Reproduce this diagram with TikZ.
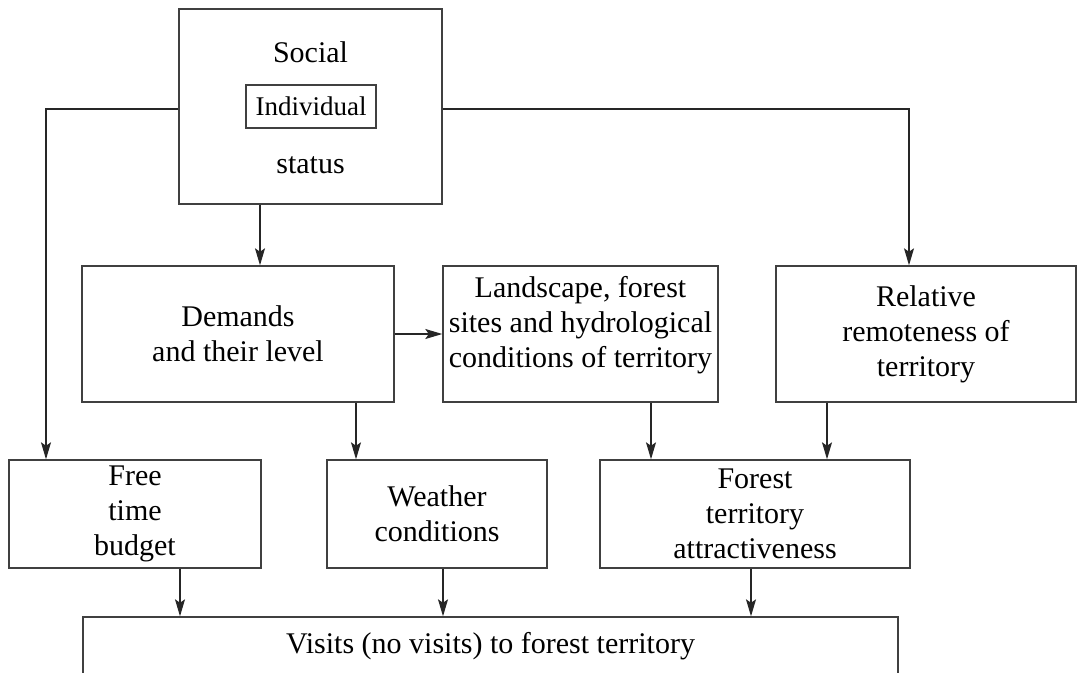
\documentclass[tikz,border=0pt]{standalone}
\usepackage{fontspec}
\setmainfont{Liberation Serif}
\usetikzlibrary{arrows.meta}

\begin{document}
\begin{tikzpicture}[x=1pt,y=-1pt,
    box/.style={draw=black!75,line width=1.4pt,inner sep=0pt,align=center,
        font={\fontsize{30}{35}\selectfont}},
    word/.style={inner sep=0pt,font={\fontsize{30}{35}\selectfont}},
    link/.style={draw=black!85,line width=1.3pt,
        -{Stealth[length=17pt,width=10pt,inset=3.5pt]}}]
\useasboundingbox (0,0) rectangle (1078,672);

% social / individual status
\node[box,minimum width=263pt,minimum height=195pt] (social) at (310.5,106.5) {};
\node[word] (socword) at (310.5,52) {Social};
\node[box,minimum width=130pt,minimum height=43pt,
      font={\fontsize{27}{30}\selectfont}] (indiv) at (311,106.5) {Individual};
\node[word] (status) at (310.5,165) {status};

% middle row
\node[box,minimum width=312pt,minimum height=136pt] (demands) at (238,334)
    {Demands\\and their level};
\node[box,minimum width=275pt,minimum height=136pt,text depth=25pt] (landscape) at (580.5,334)
    {Landscape, forest\\sites and hydrological\\conditions of territory};
\node[box,minimum width=300pt,minimum height=136pt] (relative) at (926,334)
    {Relative\\remoteness of\\territory};

% lower row
\node[box,minimum width=252pt,minimum height=108pt] (free) at (135,514)
    {Free\\time\\budget};
\node[box,minimum width=220pt,minimum height=108pt] (weather) at (437,514)
    {Weather\\conditions};
\node[box,minimum width=310pt,minimum height=108pt] (forest) at (755,514)
    {Forest\\territory\\attractiveness};

% bottom
\node[box,minimum width=815pt,minimum height=58pt] (visits) at (490.5,646)
    {Visits (no visits) to forest territory};

% lanes for the connectors
\coordinate (lanetop) at (0,109);
\coordinate (laneleft) at (46,0);
\coordinate (laneright) at (909,0);
\coordinate (todem) at (260,0);
\coordinate (towea) at (356,0);
\coordinate (tofor) at (651,0);
\coordinate (tofortwo) at (827,0);
\coordinate (visone) at (180,0);
\coordinate (vistwo) at (443,0);
\coordinate (visthree) at (751,0);

\draw[link] (social.west |- lanetop) -| (free.north -| laneleft);
\draw[link] (social.east |- lanetop) -| (relative.north -| laneright);
\draw[link] (social.south -| todem) -- (demands.north -| todem);
\draw[link] (demands.east) -- (landscape.west);
\draw[link] (demands.south -| towea) -- (weather.north -| towea);
\draw[link] (landscape.south -| tofor) -- (forest.north -| tofor);
\draw[link] (relative.south -| tofortwo) -- (forest.north -| tofortwo);
\draw[link] (free.south -| visone) -- (visits.north -| visone);
\draw[link] (weather.south -| vistwo) -- (visits.north -| vistwo);
\draw[link] (forest.south -| visthree) -- (visits.north -| visthree);
\end{tikzpicture}
\end{document}
